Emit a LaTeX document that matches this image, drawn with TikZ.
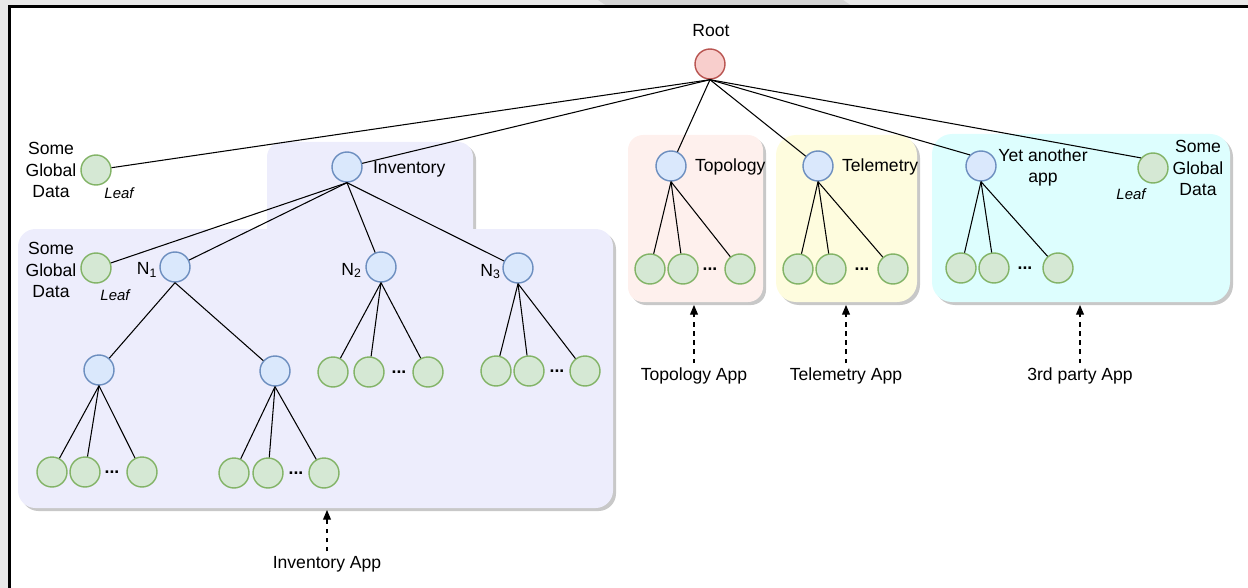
\documentclass[tikz,border=0pt]{standalone}
\usepackage{fontspec}
\setmainfont{Liberation Sans}
\usetikzlibrary{arrows.meta}

\definecolor{leafFill}{HTML}{D5E8D4}
\definecolor{leafLine}{HTML}{82B366}
\definecolor{innerFill}{HTML}{DAE8FC}
\definecolor{innerLine}{HTML}{6C8EBF}
\definecolor{rootFill}{HTML}{F8CECC}
\definecolor{rootLine}{HTML}{B85450}
\definecolor{invBg}{HTML}{EDEDFC}
\definecolor{topoBg}{HTML}{FEF0ED}
\definecolor{teleBg}{HTML}{FEFCDE}
\definecolor{thirdBg}{HTML}{DDFEFE}
\definecolor{shadowGray}{HTML}{C8C8C8}
\definecolor{frameGray}{HTML}{E8E8E8}
\definecolor{tabGray}{HTML}{D4D4D4}

\tikzset{
  treenode/.style={circle, line width=0.8pt, minimum size=0.6cm, inner sep=0pt},
  treeleaf/.style={treenode, draw=leafLine, fill=leafFill},
  treeinner/.style={treenode, draw=innerLine, fill=innerFill},
  treeroot/.style={treenode, draw=rootLine, fill=rootFill},
  lbl/.style={font=\fontsize{10}{12}\selectfont, inner sep=1pt},
  leaftag/.style={font=\fontsize{8.5}{10}\selectfont\itshape, inner sep=1pt},
  moredots/.style={font=\fontsize{10}{12}\selectfont\bfseries, inner sep=0pt, anchor=base},
  link/.style={line width=0.6pt},
  apparrow/.style={line width=0.6pt, dash pattern=on 2.6pt off 2.6pt,
    -{Triangle[length=5.5pt,width=4.5pt]}},
}

\begin{document}
\begin{tikzpicture}[x=0.02cm, y=-0.02cm]
\useasboundingbox (0,0) rectangle (1248,588);

% window frame
\fill[frameGray] (0,0) rectangle (1248,6.7);
\fill[frameGray] (0,0) rectangle (9.7,588);
\fill[tabGray] (598,0) -- (843,0) -- (853,6.7) -- (608,6.7) -- cycle;
\draw[line width=1.4pt] (9.7,588) -- (9.7,6.7) -- (1248,6.7);

% application containers (shadow first, then fill)
\fill[shadowGray, rounded corners=0.3cm] (270,145) rectangle (476,262);
\fill[shadowGray, rounded corners=0.35cm] (21,232) rectangle (616,511);
\fill[invBg, rounded corners=0.3cm] (267,142) rectangle (473,262);
\fill[invBg, rounded corners=0.35cm] (18,229) rectangle (613,508);

\fill[shadowGray, rounded corners=0.3cm] (631,138) rectangle (766,305);
\fill[topoBg, rounded corners=0.3cm] (628,135) rectangle (763,302);

\fill[shadowGray, rounded corners=0.4cm] (779,138) rectangle (920,305);
\fill[teleBg, rounded corners=0.4cm] (776,135) rectangle (917,302);

\fill[shadowGray, rounded corners=0.4cm] (935,137) rectangle (1233,305);
\fill[thirdBg, rounded corners=0.4cm] (932,134) rectangle (1230,302);

% root
\node[treeroot] (root) at (710,64) {};
\node[lbl] (rootlbl) at (711,31) {Root};

% global data leaf under the root (left)
\node[treeleaf] (gl1) at (96,170) {};
\node[lbl, align=center] (gl1lbl) at (51,170) {Some\\Global\\Data};
\node[leaftag] (gl1tag) at (119,193) {Leaf};

% inventory subtree
\node[treeinner] (inv) at (347,167) {};
\node[lbl, anchor=west] (invlbl) at (371,169) {Inventory};

\node[treeleaf] (gl2) at (96,268) {};
\node[lbl, align=center] (gl2lbl) at (51,270) {Some\\Global\\Data};
\node[leaftag] (gl2tag) at (115,295) {Leaf};

\node[treeinner] (n1) at (175,267) {};
\node[lbl, anchor=base east] (n1lbl) at (159.5,274.5) {N\textsubscript{1}};
\node[treeinner] (n2) at (381,267) {};
\node[lbl, anchor=base east] (n2lbl) at (364,275) {N\textsubscript{2}};
\node[treeinner] (n3) at (518,268) {};
\node[lbl, anchor=base east] (n3lbl) at (503,276) {N\textsubscript{3}};

\node[treeinner] (n1a) at (99,370) {};
\node[treeinner] (n1b) at (275,371) {};

\node[treeleaf] (a1) at (52,472) {};
\node[treeleaf] (a2) at (85,472) {};
\node[treeleaf] (a3) at (142,472) {};
\node[moredots] (adots) at (112,473.5) {...};

\node[treeleaf] (b1) at (234,473) {};
\node[treeleaf] (b2) at (268,473) {};
\node[treeleaf] (b3) at (324,473) {};
\node[moredots] (bdots) at (296,474.5) {...};

\node[treeleaf] (c1) at (333,372) {};
\node[treeleaf] (c2) at (369,372) {};
\node[treeleaf] (c3) at (428,372) {};
\node[moredots] (cdots) at (399,373.5) {...};

\node[treeleaf] (e1) at (496,371) {};
\node[treeleaf] (e2) at (529,371) {};
\node[treeleaf] (e3) at (585,371) {};
\node[moredots] (edots) at (557,372.5) {...};

% topology subtree
\node[treeinner] (topo) at (671,166) {};
\node[lbl, anchor=west] (topolbl) at (693,167) {Topology};
\node[treeleaf] (t1) at (650,269) {};
\node[treeleaf] (t2) at (683,269) {};
\node[treeleaf] (t3) at (740,269) {};
\node[moredots] (tdots) at (710,270.5) {...};

% telemetry subtree
\node[treeinner] (tele) at (818,166) {};
\node[lbl, anchor=west] (telelbl) at (840,167) {Telemetry};
\node[treeleaf] (m1) at (798,269) {};
\node[treeleaf] (m2) at (831,269) {};
\node[treeleaf] (m3) at (893,269) {};
\node[moredots] (mdots) at (862,270.5) {...};

% third party subtree
\node[treeinner] (yet) at (981,166) {};
\node[lbl, align=center] (yetlbl) at (1043,167) {Yet another\\app};
\node[treeleaf] (y1) at (961,268) {};
\node[treeleaf] (y2) at (994,268) {};
\node[treeleaf] (y3) at (1058,268) {};
\node[moredots] (ydots) at (1025,269.5) {...};

\node[treeleaf] (gl3) at (1153,168) {};
\node[lbl, align=center] (gl3lbl) at (1198,168) {Some\\Global\\Data};
\node[leaftag] (gl3tag) at (1131,194) {Leaf};

% tree edges
\foreach \c in {gl1, inv, topo, tele}
  \draw[link] (root.south) -- (\c);
\draw[link] (root.south) -- (yet.135);
\draw[link] (root.south) -- (gl3.140);
\foreach \c in {gl2, n1, n2, n3}
  \draw[link] (inv.south) -- (\c);
\foreach \c in {n1a, n1b}
  \draw[link] (n1.south) -- (\c);
\foreach \c in {a1, a2, a3}
  \draw[link] (n1a.south) -- (\c);
\foreach \c in {b1, b2, b3}
  \draw[link] (n1b.south) -- (\c);
\foreach \c in {c1, c2, c3}
  \draw[link] (n2.south) -- (\c);
\foreach \c in {e1, e2, e3}
  \draw[link] (n3.south) -- (\c);
\foreach \c in {t1, t2, t3}
  \draw[link] (topo.south) -- (\c);
\foreach \c in {m1, m2, m3}
  \draw[link] (tele.south) -- (\c);
\foreach \c in {y1, y2, y3}
  \draw[link] (yet.south) -- (\c);

% application labels pointing at their containers
\coordinate (invbot) at (327,510);
\coordinate (topobot) at (694,305);
\coordinate (telebot) at (846,305);
\coordinate (thirdbot) at (1080,305);
\node[lbl, inner sep=2.5pt] (invapp) at (327,564) {Inventory App};
\node[lbl, inner sep=2.5pt] (topoapp) at (694,376) {Topology App};
\node[lbl, inner sep=2.5pt] (teleapp) at (846,376) {Telemetry App};
\node[lbl, inner sep=2.5pt] (thirdapp) at (1080,376) {3rd party App};
\draw[apparrow] (invapp) -- (invbot);
\draw[apparrow] (topoapp) -- (topobot);
\draw[apparrow] (teleapp) -- (telebot);
\draw[apparrow] (thirdapp) -- (thirdbot);
\end{tikzpicture}
\end{document}
